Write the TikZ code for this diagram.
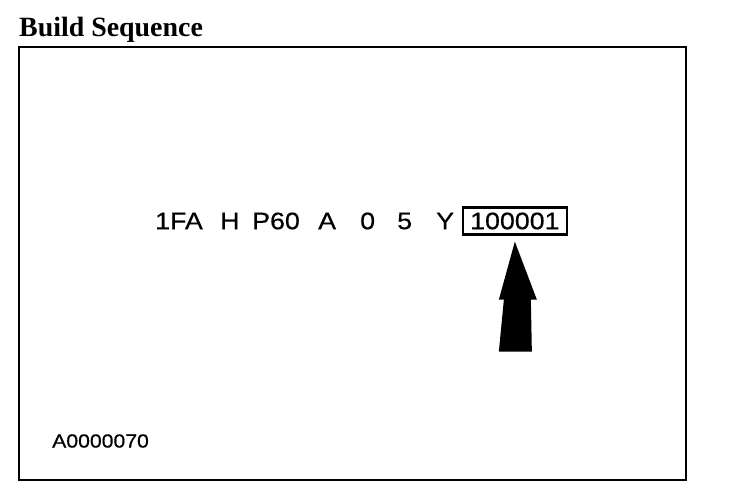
\documentclass[tikz,border=0pt]{standalone}
\usepackage{fontspec}
\setmainfont{Liberation Serif}
\newfontfamily\seqfont[FakeStretch=1.12,FakeBold=0.5]{Liberation Sans}
\begin{document}
\begin{tikzpicture}[x=1bp, y=-1bp,
    token/.style={font=\seqfont\fontsize{24}{26}\selectfont, inner sep=0pt, anchor=west},
    serialbox/.style={token, inner xsep=7pt, inner ysep=5pt}]
    \useasboundingbox (0,0) rectangle (736,494);

    % Titel
    \node[font=\bfseries\fontsize{28}{30}\selectfont, anchor=base west, inner sep=0pt] (title) at (19,37) {Build Sequence};

    % Rahmen
    \draw[line width=2pt] (19,47) rectangle (686,480);

    % Fahrgestellnummer
    \node[token] (wmi) at (155,221) {1FA};
    \node[token] (line) at (220,221) {H};
    \node[token] (body) at (252,221) {P60};
    \node[token] (restr) at (318,221) {A};
    \node[token] (check) at (360,221) {0};
    \node[token] (year) at (397,221) {5};
    \node[token] (plant) at (436,221) {Y};
    \node[serialbox] (serial) at (463,221) {100001};
    \draw[line width=2.4pt] (serial.north west) rectangle (serial.south east);

    % Pfeil auf die Seriennummer
    \coordinate (tip) at ([yshift=-7bp]serial.south);
    \fill (tip) -- ++(-16,58) -- ++(5,0) -- ++(-5,52) -- ++(33,0) -- ++(-1,-52) -- ++(6,0) -- cycle;

    % Bildnummer
    \node[font=\seqfont\fontsize{19}{21}\selectfont, anchor=west, inner sep=0pt] (figno) at (52,441) {A0000070};
\end{tikzpicture}
\end{document}
